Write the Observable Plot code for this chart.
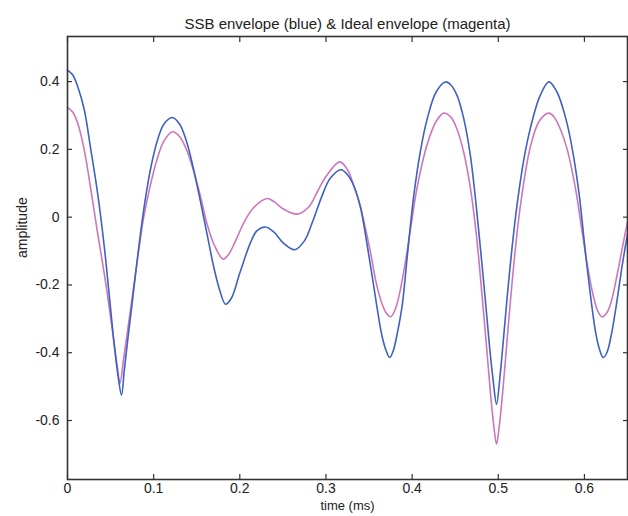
<!DOCTYPE html>
<html>
<head>
<meta charset="utf-8">
<script src="https://cdn.jsdelivr.net/npm/d3@7"></script>
<script src="https://cdn.jsdelivr.net/npm/@observablehq/plot@0.6"></script>
<style>
  html, body { margin: 0; padding: 0; background: #fff; }
  #chart svg { display: block; }
</style>
</head>
<body>
<div id="chart"></div>
<script>
const titleText = "SSB envelope (blue) & Ideal envelope (magenta)";
const xLabel = "time (ms)";
const yLabel = "amplitude";
const xTicks = [0, 0.1, 0.2, 0.3, 0.4, 0.5, 0.6];
const yTicks = [-0.6, -0.4, -0.2, 0, 0.2, 0.4];

// SSB envelope (blue)
const blueT = [0, 0.006, 0.0116, 0.0193, 0.027, 0.0348, 0.0426, 0.05, 0.054, 0.059, 0.0627, 0.066, 0.07, 0.075, 0.081, 0.087, 0.093, 0.0987, 0.1045, 0.112, 0.1215, 0.13, 0.138, 0.146, 0.154, 0.162, 0.17, 0.177, 0.1834, 0.19, 0.2, 0.2124, 0.22, 0.2298, 0.24, 0.25, 0.2638, 0.275, 0.285, 0.295, 0.305, 0.3177, 0.325, 0.3324, 0.34, 0.348, 0.354, 0.3595, 0.365, 0.37, 0.374, 0.378, 0.383, 0.3885, 0.395, 0.402, 0.41, 0.4175, 0.428, 0.4388, 0.445, 0.452, 0.46, 0.468, 0.4794, 0.485, 0.49, 0.494, 0.498, 0.502, 0.506, 0.51, 0.516, 0.522, 0.53, 0.5375, 0.548, 0.5587, 0.568, 0.5785, 0.586, 0.594, 0.601, 0.6075, 0.613, 0.6175, 0.6218, 0.626, 0.631, 0.637, 0.644, 0.65];
const blueV = [0.434, 0.42, 0.387, 0.319, 0.2, 0.073, -0.085, -0.27, -0.37, -0.475, -0.525, -0.45, -0.36, -0.255, -0.125, -0.005, 0.095, 0.17, 0.228, 0.275, 0.294, 0.275, 0.225, 0.145, 0.05, -0.05, -0.15, -0.218, -0.257, -0.24, -0.165, -0.075, -0.04, -0.029, -0.045, -0.075, -0.096, -0.07, -0.01, 0.06, 0.115, 0.14, 0.125, 0.092, 0.03, -0.085, -0.18, -0.27, -0.35, -0.395, -0.414, -0.395, -0.34, -0.26, -0.1, 0.065, 0.2, 0.29, 0.37, 0.399, 0.39, 0.36, 0.29, 0.175, -0.094, -0.245, -0.385, -0.48, -0.552, -0.47, -0.36, -0.245, -0.09, 0.04, 0.175, 0.265, 0.355, 0.399, 0.37, 0.29, 0.2, 0.065, -0.1, -0.24, -0.34, -0.39, -0.414, -0.4, -0.35, -0.26, -0.14, -0.05];

// Ideal envelope (magenta)
const magentaT = [0, 0.006, 0.0116, 0.0193, 0.027, 0.0348, 0.0387, 0.045, 0.05, 0.055, 0.058, 0.061, 0.065, 0.07, 0.076, 0.082, 0.0885, 0.0967, 0.1045, 0.112, 0.1219, 0.13, 0.138, 0.146, 0.154, 0.162, 0.17, 0.1807, 0.187, 0.195, 0.205, 0.215, 0.2318, 0.24, 0.25, 0.2666, 0.28, 0.29, 0.3, 0.316, 0.325, 0.3324, 0.34, 0.3517, 0.358, 0.365, 0.37, 0.375, 0.38, 0.385, 0.392, 0.399, 0.406, 0.4175, 0.428, 0.4368, 0.445, 0.452, 0.46, 0.468, 0.4745, 0.4794, 0.485, 0.491, 0.495, 0.498, 0.501, 0.505, 0.51, 0.514, 0.52, 0.526, 0.5375, 0.548, 0.5587, 0.565, 0.572, 0.58, 0.5896, 0.5966, 0.6036, 0.6106, 0.6156, 0.6206, 0.626, 0.631, 0.638, 0.644, 0.65];
const magentaV = [0.324, 0.31, 0.279, 0.2, 0.083, -0.045, -0.104, -0.205, -0.295, -0.39, -0.445, -0.49, -0.42, -0.33, -0.22, -0.11, 0, 0.1, 0.175, 0.225, 0.252, 0.238, 0.2, 0.14, 0.065, -0.02, -0.08, -0.124, -0.11, -0.07, -0.015, 0.025, 0.055, 0.045, 0.025, 0.009, 0.03, 0.075, 0.12, 0.163, 0.14, 0.092, 0.03, -0.104, -0.19, -0.255, -0.283, -0.294, -0.275, -0.23, -0.135, -0.02, 0.09, 0.215, 0.283, 0.307, 0.295, 0.26, 0.19, 0.08, -0.05, -0.18, -0.34, -0.52, -0.62, -0.67, -0.62, -0.52, -0.37, -0.25, -0.09, 0.04, 0.21, 0.285, 0.307, 0.295, 0.26, 0.2, 0.085, -0.03, -0.145, -0.235, -0.278, -0.294, -0.282, -0.25, -0.17, -0.09, -0.015];

const blue = blueT.map((t, i) => ({t, v: blueV[i]}));
const magenta = magentaT.map((t, i) => ({t, v: magentaV[i]}));

const fmt = d => String(d);
const axisColor = "#333";

const chart = Plot.plot({
  width: 628,
  height: 516,
  marginLeft: 67,
  marginRight: 1,
  marginTop: 36,
  marginBottom: 37,
  style: {fontFamily: "'Liberation Sans', Arial, sans-serif", fontSize: "14px", color: "#222", background: "#fff"},
  x: {domain: [0, 0.65], ticks: xTicks},
  y: {domain: [-0.774, 0.533], ticks: yTicks},
  marks: [
    Plot.line(magenta, {x: "t", y: "v", stroke: "#cc77bd", strokeWidth: 1.6, curve: "catmull-rom"}),
    Plot.line(blue, {x: "t", y: "v", stroke: "#3d62c2", strokeWidth: 1.6, curve: "catmull-rom"}),
    // tick labels
    Plot.axisX(xTicks, {anchor: "bottom", tickSize: 0, tickPadding: 4, tickFormat: fmt, fontSize: 14, label: null}),
    Plot.axisY(yTicks, {anchor: "left", tickSize: 0, tickPadding: 8, tickFormat: fmt, fontSize: 14, label: null}),
    // inward ticks on all four sides
    Plot.axisX(xTicks, {anchor: "bottom", tickSize: -5, tickFormat: () => "", stroke: axisColor, strokeWidth: 1.2, label: null}),
    Plot.axisX(xTicks, {anchor: "top", tickSize: -5, tickFormat: () => "", stroke: axisColor, strokeWidth: 1.2, label: null}),
    Plot.axisY(yTicks, {anchor: "left", tickSize: -5, tickFormat: () => "", stroke: axisColor, strokeWidth: 1.2, label: null}),
    Plot.axisY(yTicks, {anchor: "right", tickSize: -5, tickFormat: () => "", stroke: axisColor, strokeWidth: 1.2, label: null}),
    Plot.frame({stroke: axisColor, strokeWidth: 1.6}),
    Plot.text([titleText], {frameAnchor: "top", dy: -18, fontSize: 15, fill: "#222"}),
    Plot.text([xLabel], {frameAnchor: "bottom", dy: 30, fontSize: 13, fill: "#222"}),
    Plot.text([yLabel], {frameAnchor: "left", dx: -45, rotate: -90, fontSize: 14, fill: "#222"})
  ]
});
document.getElementById("chart").appendChild(chart);
</script>
</body>
</html>
